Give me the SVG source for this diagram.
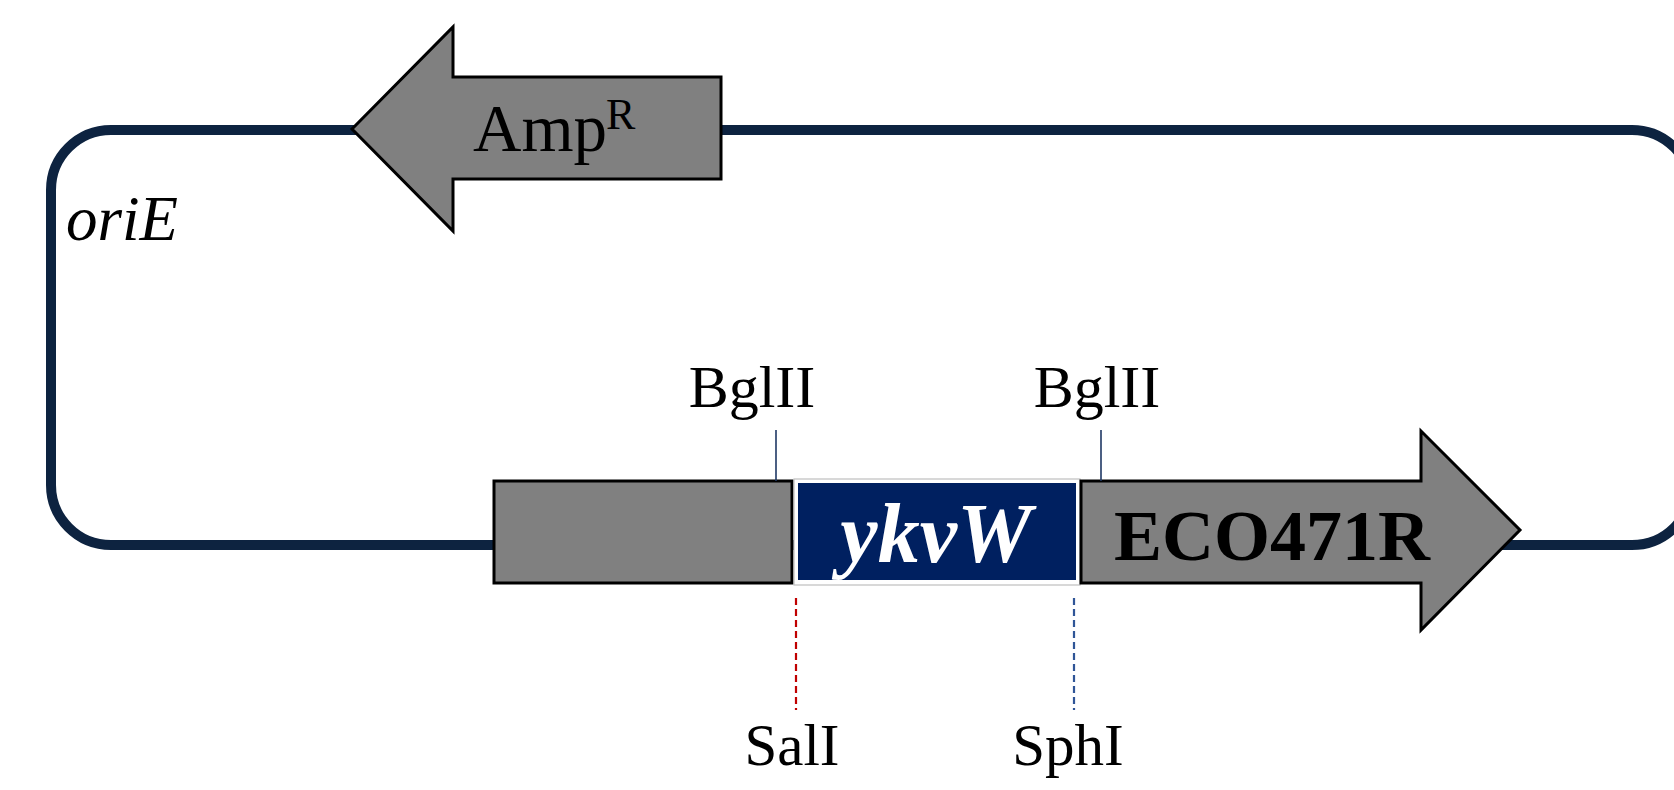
<svg xmlns="http://www.w3.org/2000/svg" width="1674" height="790" viewBox="0 0 1674 790">
<style>
.lbl{font-family:"Liberation Serif","Times New Roman",serif;fill:#000}
.gene{fill:#808080;stroke:#000;stroke-width:3;stroke-linejoin:miter}
.tick{stroke:#1f3864;stroke-width:1.6;fill:none}
.dash{stroke-width:2.2;stroke-dasharray:7 4;fill:none}
</style>
<rect width="1674" height="790" fill="#fff"/>
<g id="backbone">
<rect x="51" y="130" width="1641" height="415" rx="60" ry="60" fill="none" stroke="#0d2340" stroke-width="10"/>
</g>
<g id="ampR">
<polygon class="gene" points="352,129 453,27 453,77 721,77 721,179 453,179 453,231"/>
<text class="lbl" x="473" y="151" font-size="67">Amp</text>
<text class="lbl" x="606" y="129" font-size="44">R</text>
</g>
<g id="oriE">
<text class="lbl" x="66" y="240" font-size="63" font-style="italic">oriE</text>
</g>
<g id="leftbox">
<rect class="gene" x="494" y="481" width="298" height="102" stroke-width="3.5"/>
</g>
<g id="ykvW">
<rect x="794" y="479" width="286" height="106" fill="#fff" stroke="#bfbfbf" stroke-width="1.2"/>
<rect x="798" y="483" width="278" height="97" fill="#002060"/>
<text x="936" y="562" font-size="84" font-family="Liberation Serif,'Times New Roman',serif" font-weight="bold" font-style="italic" fill="#fff" text-anchor="middle">ykvW</text>
</g>
<g id="eco471r">
<polygon class="gene" points="1081,481 1421,481 1421,431 1520,530 1421,630 1421,583 1081,583"/>
<text class="lbl" x="1272" y="560" font-size="72" font-weight="bold" text-anchor="middle">ECO471R</text>
</g>
<g id="sites">
<text class="lbl" x="752" y="407" font-size="60" text-anchor="middle">BglII</text>
<text class="lbl" x="1097" y="407" font-size="60" text-anchor="middle">BglII</text>
<text class="lbl" x="792" y="765" font-size="59" text-anchor="middle">SalI</text>
<text class="lbl" x="1068" y="765" font-size="59" text-anchor="middle">SphI</text>
</g>
<g id="connectors">
<line class="tick" x1="776" y1="430" x2="776" y2="481"/>
<line class="tick" x1="1101" y1="430" x2="1101" y2="481"/>
<line class="dash" x1="796" y1="598" x2="796" y2="710" stroke="#c00000"/>
<line class="dash" x1="1074" y1="598" x2="1074" y2="710" stroke="#2f5597"/>
</g>
</svg>
